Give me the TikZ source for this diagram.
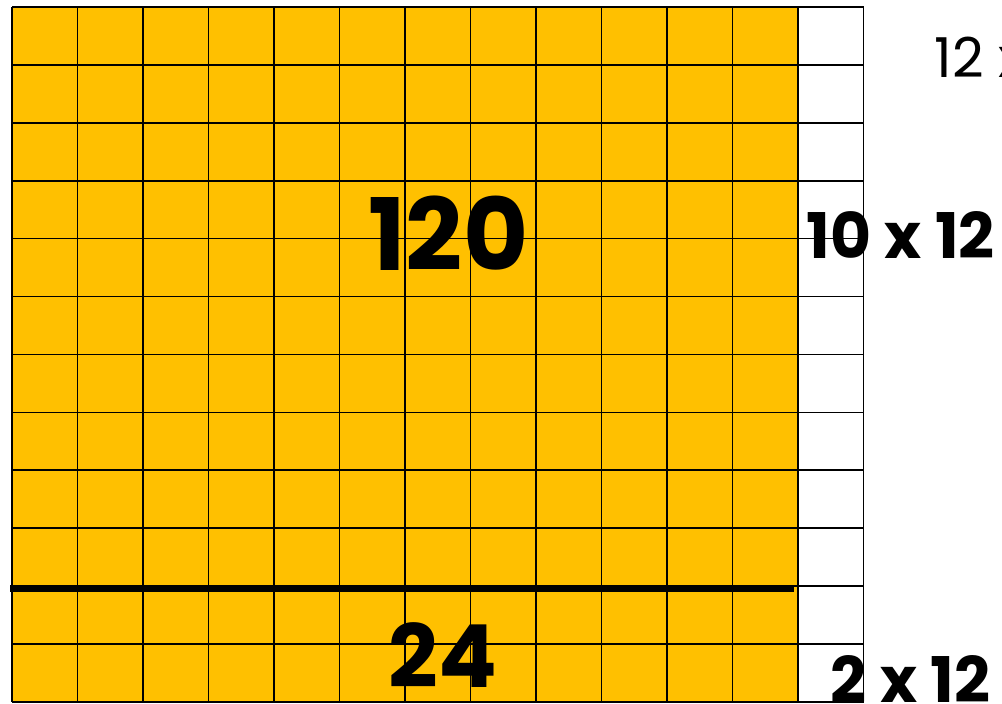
\documentclass[tikz,border=0pt]{standalone}
\usepackage{fontspec}
\setmainfont{Poppins}
\definecolor{gold}{HTML}{FFC000}

\begin{document}
\begin{tikzpicture}[x=65.5pt,y=-57.9pt,
    bignum/.style={font=\fontsize{100}{100}\selectfont\bfseries,inner sep=0pt},
    sumlab/.style={font=\fontsize{63}{63}\selectfont\bfseries,inner sep=0pt,anchor=west}]

% Frame
\useasboundingbox (-0.1832,-0.1209) rectangle (15.114,12.021);
\clip (-0.1832,-0.1209) rectangle (15.114,12.021);

% Filled part
\fill[gold] (0,0) rectangle (12,12);

% Products
\node[bignum] (top) at (6.66,3.90) {120};
\node[bignum,font=\fontsize{87}{87}\selectfont\bfseries] (bot) at (6.58,11.20) {24};

% Labels
\node[sumlab,font=\fontsize{55}{55}\selectfont] (whole) at (14.08,0.86) {12 x 12};
\node[sumlab] (tens) at (12.13,3.94) {10 x 12};
\node[sumlab] (twos) at (12.50,11.60) {2 x 12};

% Grid
\foreach \x in {0,...,13}
    \draw[line width=1.6pt] (\x,0) -- (\x,12);
\foreach \y in {0,...,12}
    \draw[line width=1.6pt] (0,\y) -- (13,\y);

% Split
\draw[line width=7pt] (-0.03,10.05) -- (11.94,10.05);

\end{tikzpicture}
\end{document}
